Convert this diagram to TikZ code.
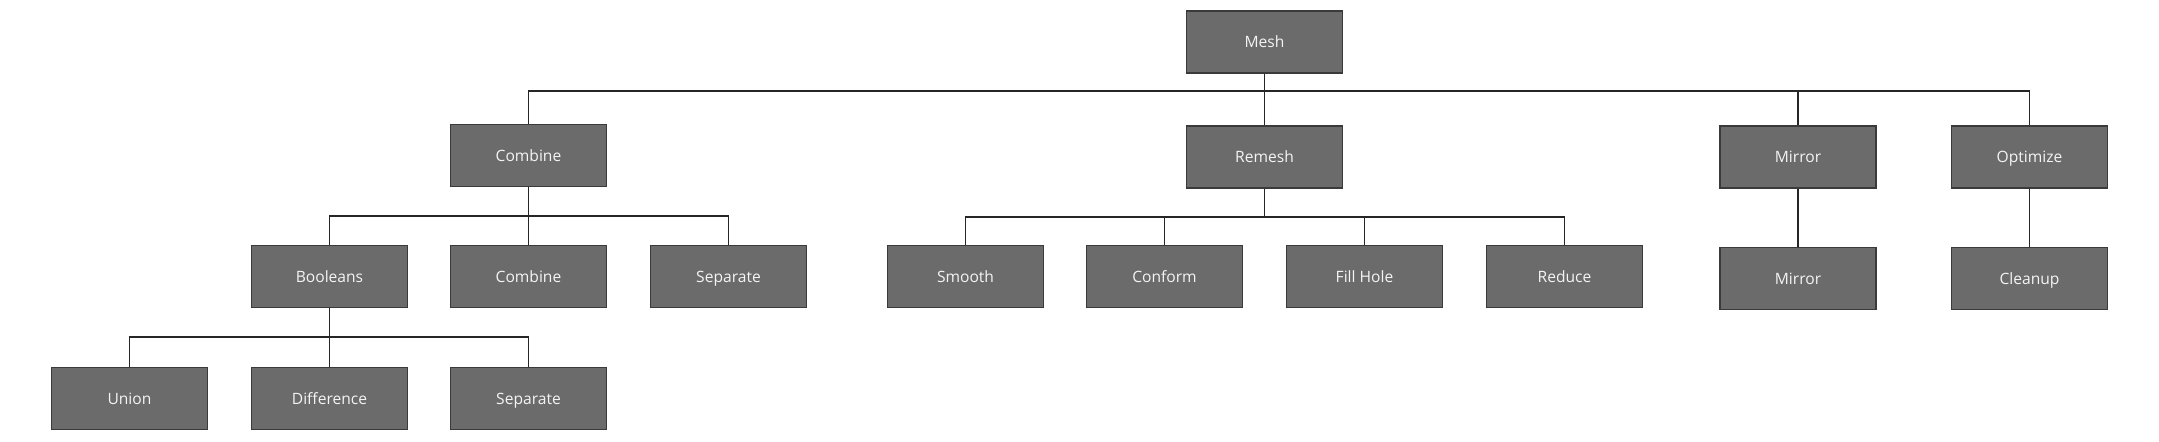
\documentclass[tikz,border=0pt]{standalone}
\usepackage{fontspec}
\setmainfont{Open Sans}
\definecolor{boxfill}{HTML}{6B6B6B}
\definecolor{boxline}{HTML}{3A3A3A}
\definecolor{boxtext}{HTML}{F4F4F4}
\begin{document}
\begin{tikzpicture}[
  x=0.5pt, y=-0.5pt,
  box/.style={draw=boxline, fill=boxfill, line width=0.55pt, minimum width=78pt, minimum height=31pt, inner sep=0pt, text height=1.55ex, text depth=0.45ex, text=boxtext, font=\fontsize{7.8}{9}\selectfont},
  link/.style={draw=black!85, line width=0.6pt}
]
\useasboundingbox (0,0) rectangle (2159,441);
\node[box] (mesh) at (1264.5,42) {Mesh};
\node[box] (combine) at (528.5,155.5) {Combine};
\node[box] (remesh) at (1264.5,157) {Remesh};
\node[box] (mirror) at (1798,157) {Mirror};
\node[box] (optimize) at (2029.5,157) {Optimize};
\node[box] (booleans) at (329.5,276.5) {Booleans};
\node[box] (combinetwo) at (528.5,276.5) {Combine};
\node[box] (separate) at (728.5,276.5) {Separate};
\node[box] (smooth) at (965.5,276.5) {Smooth};
\node[box] (conform) at (1164.5,276.5) {Conform};
\node[box] (fillhole) at (1364.5,276.5) {Fill Hole};
\node[box] (reduce) at (1564.5,276.5) {Reduce};
\node[box] (mirrortwo) at (1798,278.5) {Mirror};
\node[box] (cleanup) at (2029.5,278.5) {Cleanup};
\node[box] (union) at (129.5,398.5) {Union};
\node[box] (difference) at (329.5,398.5) {Difference};
\node[box] (separatetwo) at (528.5,398.5) {Separate};
\foreach \p/\c/\y in {mesh/combine/91, mesh/remesh/91, mesh/mirror/91, mesh/optimize/91,
  combine/booleans/216, combine/combinetwo/216, combine/separate/216,
  remesh/smooth/217, remesh/conform/217, remesh/fillhole/217, remesh/reduce/217,
  mirror/mirrortwo/218, optimize/cleanup/218,
  booleans/union/337, booleans/difference/337, booleans/separatetwo/337}
  \draw[link] (\p.south) -- (\p.south |- 0,\y) -| (\c.north);
\end{tikzpicture}
\end{document}
